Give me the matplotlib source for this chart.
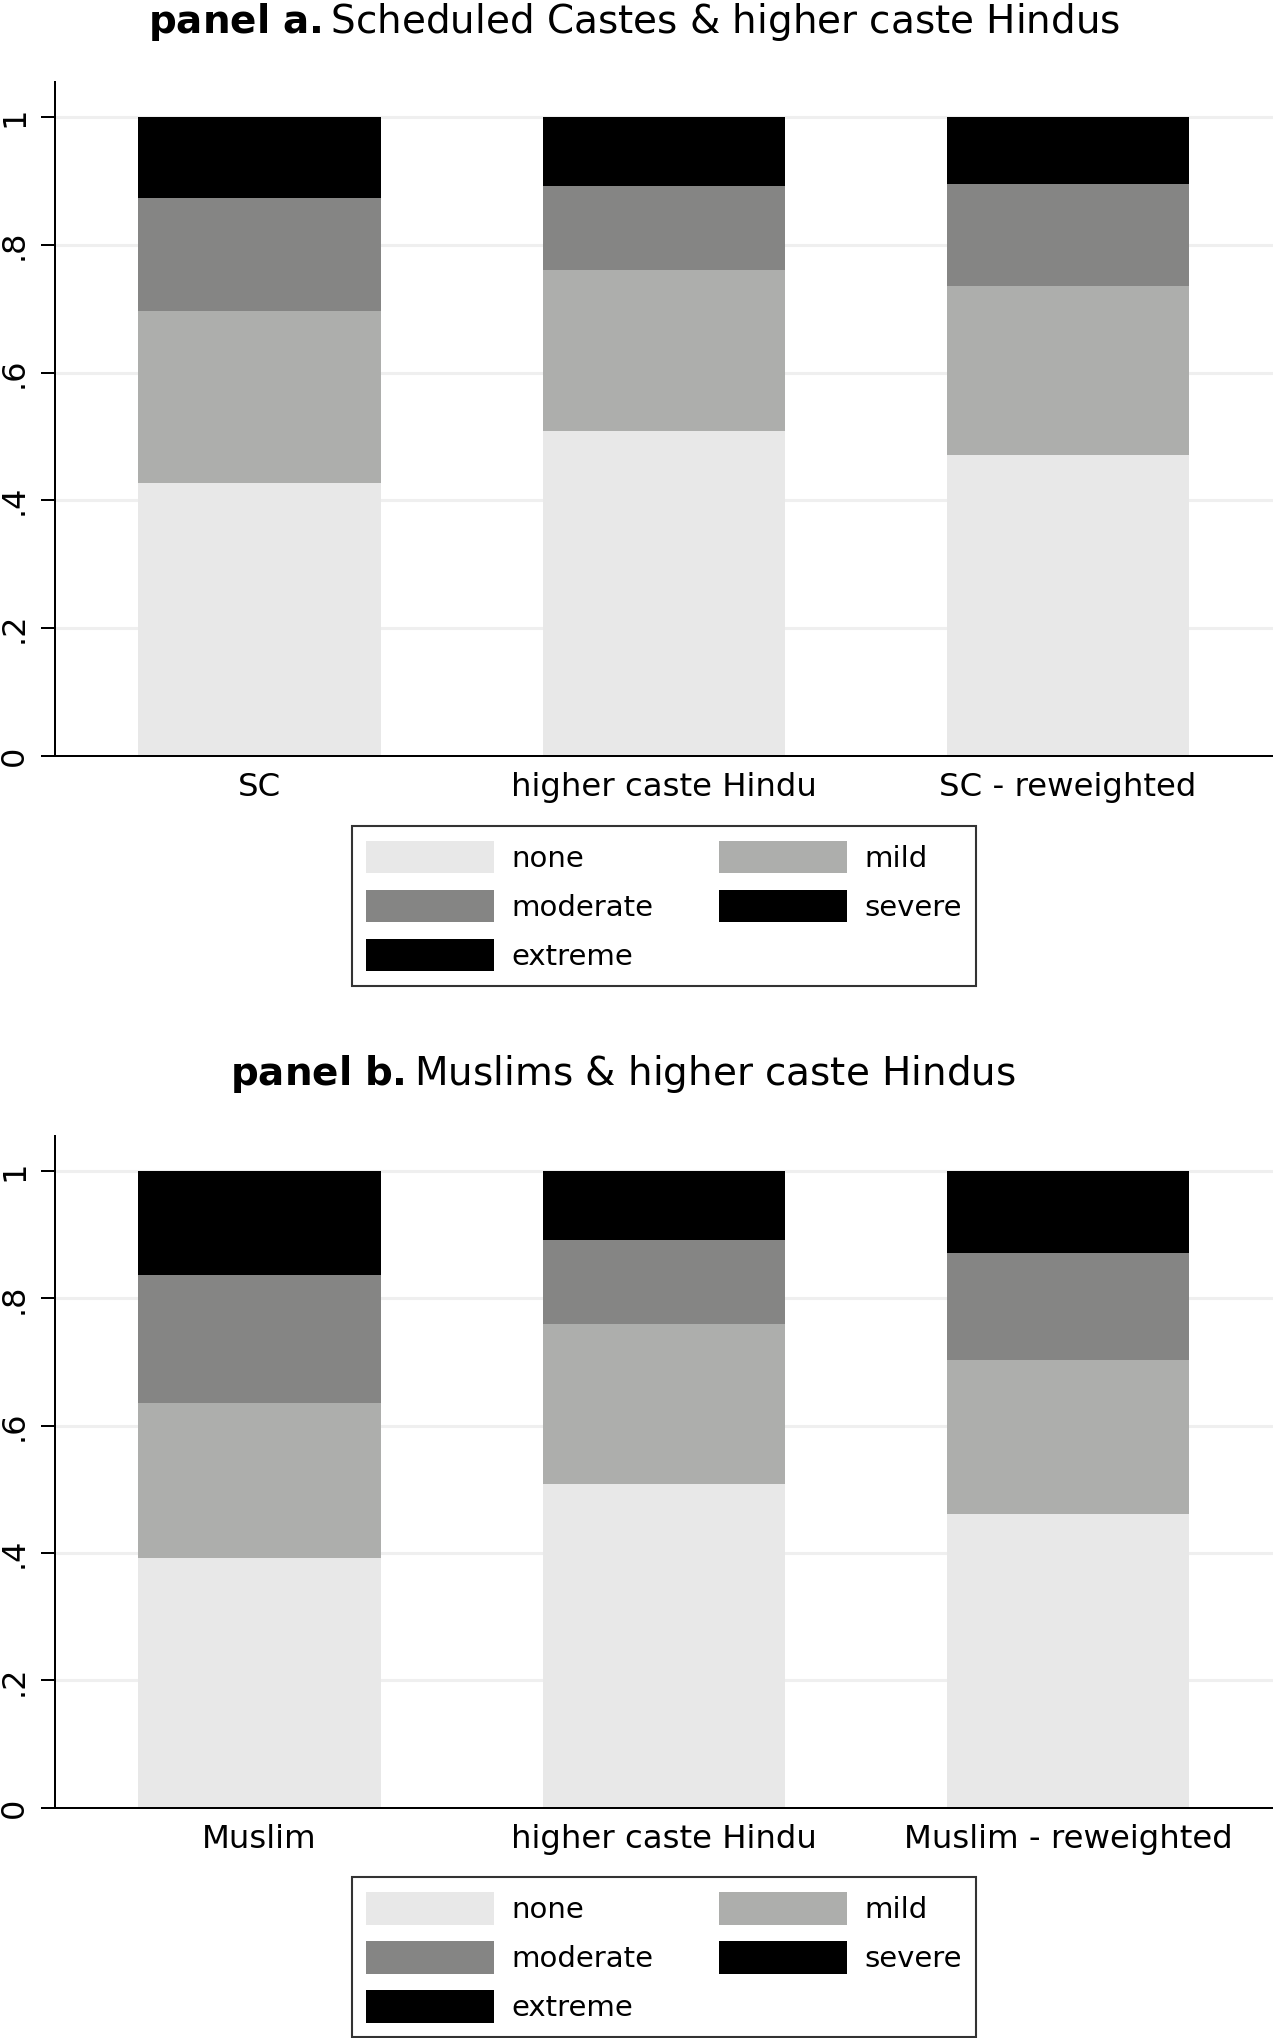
import matplotlib
matplotlib.use("Agg")
import matplotlib.pyplot as plt
from matplotlib.patches import Patch
import numpy as np

# ---- data ----
levels = ["none", "mild", "moderate", "severe", "extreme"]
level_colors = ["#e8e8e8", "#adaeac", "#858584", "#000000", "#000000"]

cats_a = ["SC", "higher caste Hindu", "SC - reweighted"]
none_a = [0.427, 0.509, 0.471]
mild_a = [0.270, 0.251, 0.265]
moderate_a = [0.177, 0.132, 0.160]
severe_a = [0.086, 0.074, 0.071]
extreme_a = [0.040, 0.034, 0.033]

cats_b = ["Muslim", "higher caste Hindu", "Muslim - reweighted"]
none_b = [0.393, 0.509, 0.462]
mild_b = [0.2425, 0.251, 0.241]
moderate_b = [0.2005, 0.132, 0.169]
severe_b = [0.110, 0.074, 0.087]
extreme_b = [0.054, 0.034, 0.041]

yticks = [0, 0.2, 0.4, 0.6, 0.8, 1.0]
ytick_labels = ["0", ".2", ".4", ".6", ".8", "1"]

title_a = r"$\bf{panel\ a.}$Scheduled Castes & higher caste Hindus"
title_b = r"$\bf{panel\ b.}$Muslims & higher caste Hindus"

W, H = 1273, 2038
fig = plt.figure(figsize=(W / 100, H / 100), dpi=100)
plt.rcParams["font.family"] = ["DejaVu Sans"]


def px_box(left, top, right, bottom):
    return [left / W, 1 - bottom / H, (right - left) / W, (bottom - top) / H]


def draw_panel(ax, cats, series, title, title_cx, title_base, leg_top):
    x = np.arange(len(cats))
    bottom = np.zeros(len(cats))
    for vals, col in zip(series, level_colors):
        ax.bar(x, vals, width=0.6, bottom=bottom, color=col, linewidth=0, zorder=2)
        bottom = bottom + np.array(vals)
    ax.set_xlim(-0.506, 2.507)
    ax.set_ylim(0, 1.055)
    ax.set_yticks(yticks)
    ax.set_yticklabels(ytick_labels, rotation=90, va="center", fontsize=23)
    ax.set_xticks(x)
    ax.set_xticklabels(cats, fontsize=23.3)
    ax.tick_params(axis="x", length=0, pad=11.5)
    ax.tick_params(axis="y", length=10, width=1.44, pad=8)
    for s in ["top", "right"]:
        ax.spines[s].set_visible(False)
    for s in ["left", "bottom"]:
        ax.spines[s].set_linewidth(1.44)
    ax.yaxis.grid(True, color="#efefef", linewidth=2.2, zorder=0)
    ax.set_axisbelow(True)
    fig.text(title_cx / W, 1 - title_base / H, title, ha="center", va="baseline", fontsize=28)

    handles = [Patch(facecolor=c, edgecolor="none") for c in level_colors]
    order = [0, 2, 4, 1, 3]
    leg = fig.legend([handles[i] for i in order], [levels[i] for i in order],
                     loc="upper center", bbox_to_anchor=(664 / W, 1 - leg_top / H),
                     ncol=2, fontsize=21, frameon=True, fancybox=False,
                     handlelength=4.38, handleheight=1.35, labelspacing=0.56,
                     handletextpad=0.6, columnspacing=2.25, borderpad=0.5,
                     borderaxespad=0)
    fr = leg.get_frame()
    fr.set_edgecolor("black")
    fr.set_linewidth(1.5)


ax_a = fig.add_axes(px_box(55, 82, 1273, 755.7))
draw_panel(ax_a, cats_a, [none_a, mild_a, moderate_a, severe_a, extreme_a],
           title_a, 634.5, 33, 826)

ax_b = fig.add_axes(px_box(55, 1136, 1273, 1807.8))
draw_panel(ax_b, cats_b, [none_b, mild_b, moderate_b, severe_b, extreme_b],
           title_b, 622.5, 1085, 1877.3)

fig.savefig("out.png", dpi=100, facecolor="white")
